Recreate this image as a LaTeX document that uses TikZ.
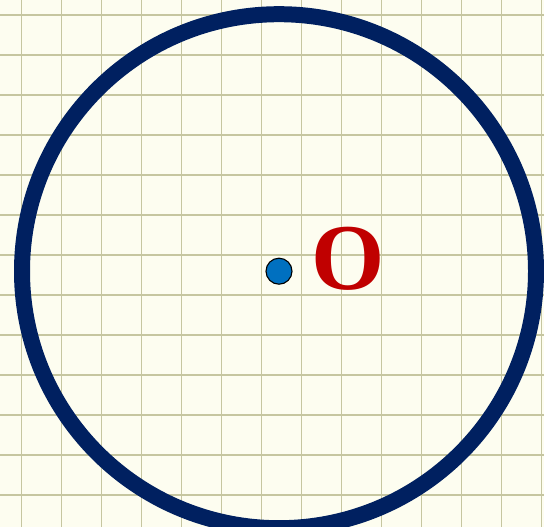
\documentclass[tikz,border=0pt]{standalone}
\usepackage{fontspec}
\setmainfont{Liberation Serif}
\usepackage{xcolor}
\usepackage{tikz}
\usetikzlibrary{positioning}
\definecolor{paperbg}{HTML}{FDFDF0}
\definecolor{gridolive}{HTML}{C6C6A0}
\definecolor{ringnavy}{HTML}{002060}
\definecolor{dotblue}{HTML}{0070C0}
\definecolor{labelred}{HTML}{C00000}
\tikzstyle{gridline} = [draw=gridolive, line width=1.1pt]
\tikzstyle{ring} = [draw=ringnavy, line width=0.4cm]
\tikzstyle{centredot} = [circle, draw=black, line width=0.8pt, fill=dotblue, inner sep=0pt, minimum size=0.65cm]
\tikzstyle{biglabel} = [text=labelred, font=\fontsize{67}{67}\selectfont\bfseries, inner sep=0pt]

\begin{document}
\begin{tikzpicture}
    \useasboundingbox (0,0) rectangle (13.6,-13.175);
    \clip (0,0) rectangle (13.6,-13.175);
    \fill[paperbg] (0,0) rectangle (13.6,-13.175);
    % paper grid
    \foreach \x in {0,...,13}
        \draw[gridline] (0.54+\x,0) -- (0.54+\x,-13.175);
    \foreach \y in {0,...,12}
        \draw[gridline] (0,-0.375-\y) -- (13.6,-0.375-\y);

    \coordinate (c) at (6.975,-6.78);
    \draw[ring] (c) circle (6.425);
    \node[centredot] (dot) at (c) {};
    \node[biglabel, right=0.47cm of dot, yshift=0.3cm] (lblO) {O};
\end{tikzpicture}
\end{document}
